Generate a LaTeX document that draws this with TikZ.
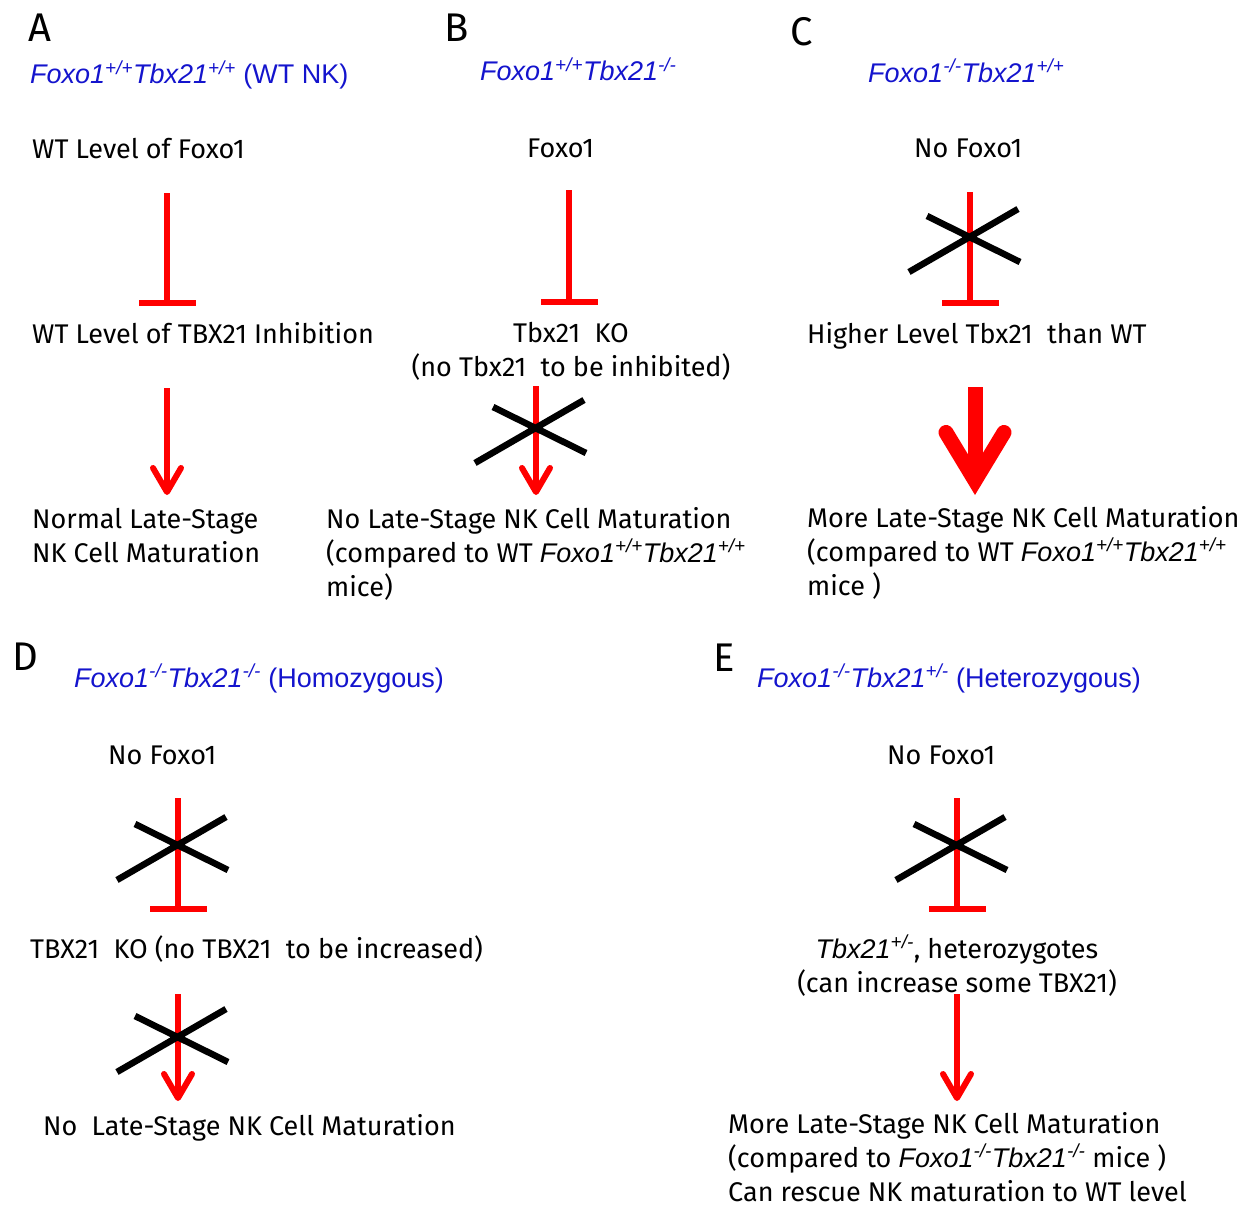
\documentclass[tikz,border=0pt]{standalone}
\usepackage{fontspec}
\setmainfont{Fira Sans}
\newfontfamily\genefont{Liberation Sans}
\usepackage{tikz}
\usetikzlibrary{arrows.meta}
\definecolor{ttlblue}{RGB}{20,20,205}
\newcommand\gene[2]{{\genefont\itshape #1\textsuperscript{#2}}}
\tikzset{
  txt/.style={anchor=base west, inner sep=0pt, font=\fontsize{27}{34}\selectfont},
  ttl/.style={txt, text=ttlblue, font=\fontsize{27}{32}\selectfont\genefont},
  lbl/.style={anchor=base west, inner sep=0pt, font=\fontsize{40}{40}\selectfont},
  inh/.style={red, line width=6pt, -{Bar[width=57pt]}},
  act/.style={red, line width=6pt, -{Straight Barb[length=24pt,width=28pt,round]}},
  bigact/.style={red, line width=15pt, -{Straight Barb[length=48pt,width=58pt,line cap=round,line join=miter]}},
  crossln/.style={line width=6.5pt},
  nocross/.pic={\draw[crossln] (-61,35) -- (48,-28) (-43,-21) -- (50,25);}
}
\begin{document}
\begin{tikzpicture}[x=1pt,y=-1pt]
\useasboundingbox (0,0) rectangle (1250,1207);
% A
\node[lbl] (lA) at (28,42) {A};
\node[ttl] (tA) at (30,84) {\gene{Foxo1}{+/+}\gene{Tbx21}{+/+} (WT NK)};
\node[txt] (fA) at (32,158) {WT Level of Foxo1};
\node[txt] (iA) at (32,343) {WT Level of TBX21 Inhibition};
\node[txt,align=left] (mA) at (32,562) {Normal Late-Stage\\NK Cell Maturation};
\coordinate (a1) at (167,193); \coordinate (a2) at (167,306);
\coordinate (a3) at (167,388); \coordinate (a4) at (167,495);
\draw[inh] (a1) -- (a2); %Foxo1 -| TBX21
\draw[act] (a3) -- (a4); %TBX21 -> maturation
% B
\node[lbl] (lB) at (444,42) {B};
\node[ttl] (tB) at (480,81) {\gene{Foxo1}{+/+}\gene{Tbx21}{-/-}};
\node[txt] (fB) at (527,157) {Foxo1};
\node[txt,align=center,anchor=base] (kB) at (571,376) {Tbx21\ \ KO\\(no Tbx21\ \ to be inhibited)};
\node[txt,align=left] (mB) at (326,596) {No Late-Stage NK Cell Maturation\\(compared to WT \gene{Foxo1}{+/+}\gene{Tbx21}{+/+}\\mice)};
\coordinate (b1) at (569,190); \coordinate (b2) at (569,305);
\coordinate (b3) at (536,386); \coordinate (b4) at (536,495);
\draw[inh] (b1) -- (b2);
\draw[act] (b3) -- (b4);
\pic at (536,428) {nocross};
% C
\node[lbl] (lC) at (790,46) {C};
\node[ttl] (tC) at (868,82) {\gene{Foxo1}{-/-}\gene{Tbx21}{+/+}};
\node[txt] (fC) at (914,157) {No Foxo1};
\node[txt] (hC) at (807,343) {Higher Level Tbx21\ \ than WT};
\node[txt,align=left] (mC) at (807,595) {More Late-Stage NK Cell Maturation\\(compared to WT \gene{Foxo1}{+/+}\gene{Tbx21}{+/+}\\mice )};
\coordinate (c1) at (970,192); \coordinate (c2) at (970,306);
\coordinate (c3) at (975,387); \coordinate (c4) at (975,495);
\draw[inh] (c1) -- (c2);
\pic at (970,237) {nocross};
\draw[bigact] (c3) -- (c4); %more TBX21
% D
\node[lbl] (lD) at (12,670) {D};
\node[ttl] (tD) at (74,687) {\gene{Foxo1}{-/-}\gene{Tbx21}{-/-} (Homozygous)};
\node[txt] (fD) at (108,764) {No Foxo1};
\node[txt] (kD) at (30,958) {TBX21\ \ KO (no TBX21\ \ to be increased)};
\node[txt] (mD) at (43,1135) {No\ \ Late-Stage NK Cell Maturation};
\coordinate (d1) at (178,798); \coordinate (d2) at (178,912);
\coordinate (d3) at (178,994); \coordinate (d4) at (178,1101);
\draw[inh] (d1) -- (d2);
\pic at (178,845) {nocross};
\draw[act] (d3) -- (d4);
\pic at (178,1037) {nocross};
% E
\node[lbl] (lE) at (713,671) {E};
\node[ttl] (tE) at (757,687) {\gene{Foxo1}{-/-}\gene{Tbx21}{+/-} (Heterozygous)};
\node[txt] (fE) at (887,764) {No Foxo1};
\node[txt,align=center,anchor=base] (kE) at (957,992) {\gene{Tbx21}{+/-}, heterozygotes\\(can increase some TBX21)};
\node[txt,align=left] (mE) at (728,1201) {More Late-Stage NK Cell Maturation\\(compared to \gene{Foxo1}{-/-}\gene{Tbx21}{-/-} mice )\\Can rescue NK maturation to WT level};
\coordinate (e1) at (957,798); \coordinate (e2) at (957,912);
\coordinate (e3) at (957,994); \coordinate (e4) at (957,1101);
\draw[inh] (e1) -- (e2);
\pic at (957,845) {nocross};
\draw[act] (e3) -- (e4); %some TBX21
\end{tikzpicture}
\end{document}
